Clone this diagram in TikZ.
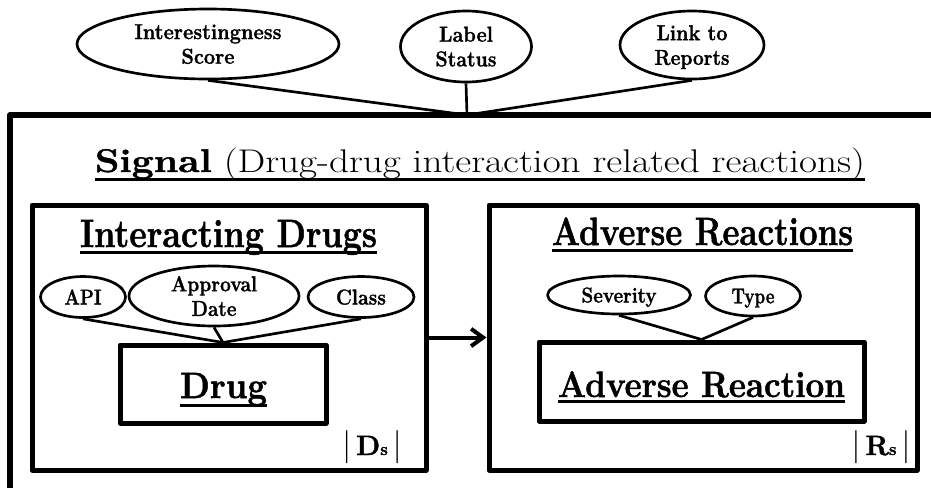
\documentclass[tikz,border=0pt]{standalone}
\usepackage{graphicx}
\usepackage{fontspec}
\setmainfont{Latin Modern Roman}[BoldFeatures={FakeBold=1.4}]
\usetikzlibrary{shapes.geometric,arrows.meta}

% one pixel of the layout grid
\newdimen\px \px=0.75pt
% stretch or squeeze a line of text to a given width (in px), height kept
\newcommand\hfit[2]{\resizebox{#1\px}{\height}{#2}}
% underlined text: rule centred #1 px below the baseline, #2 px thick
\newcommand\ulined[3]{\setbox0=\hbox{#3}\rlap{\rule[\dimexpr-#1\px-#2\px/2\relax]{\wd0}{#2\px}}\box0}
% cardinality mark |Xs|
\newcommand\card[1]{{\fontsize{25}{25}\selectfont|}\,\textbf{#1}{\fontsize{13}{13}\selectfont\bfseries s}\,{\fontsize{25}{25}\selectfont|}}

\begin{document}
\begin{tikzpicture}[x=0.75pt,y=-0.75pt,line join=round,
  attr/.style={draw, ellipse, line width=2pt, inner sep=0pt, align=center,
    text depth=0pt, font=\fontsize{16.2}{18.5}\selectfont\bfseries},
  entbox/.style={draw, rectangle, line width=3.75pt, inner sep=0pt},
  link/.style={line width=2pt},
  ttl/.style={inner sep=0pt, anchor=base},
  bigbold/.style={ttl, font=\fontsize{29.6}{32}\selectfont\bfseries},
  entbold/.style={ttl, font=\fontsize{27.5}{30}\selectfont\bfseries},
  cardtxt/.style={ttl, font=\fontsize{21}{21}\selectfont}]

\useasboundingbox (0,0) rectangle (931,487);
\clip (0,0) rectangle (931,487);

% outer signal frame (runs past the right and bottom edges)
\draw[line width=4.5pt] (945,115) -- (10,115) -- (10,500);
\coordinate (sigtop) at (467,115);

% signal attributes
\node[attr, minimum width=196.5pt, minimum height=52.5pt] (score) at (208,44)
  {\hfit{147}{Interestingness}\\\hfit{53}{Score}};
\node[attr, minimum width=98.25pt, minimum height=53.25pt] (status) at (466,46.5)
  {\hfit{54}{Label}\\\hfit{61}{Status}};
\node[attr, minimum width=108pt, minimum height=51pt] (reports) at (692,45)
  {\hfit{71}{Link to}\\\hfit{75}{Reports}};
\draw[link] (score.south) -- (sigtop);
\draw[link] (status.south) -- (sigtop);
\draw[link] (reports.south) -- (sigtop);

% signal title
\node[ttl, font=\fontsize{24.6}{28}\selectfont] (sigtitle) at (480,172)
  {\hfit{770}{\ulined{7.5}{3}{\textbf{Signal} (Drug-drug interaction related reactions)}}};

% interacting drugs
\node[entbox, minimum width=295.5pt, minimum height=198.75pt] (drugset) at (229,337.5) {};
\node[bigbold] (drugsettitle) at (228.5,247) {\hfit{297}{\ulined{5}{3}{Interacting Drugs}}};
\node[entbox, minimum width=154.5pt, minimum height=58.5pt] (drug) at (223,384) {};
\node[entbold] (drugtxt) at (223.5,398) {\hfit{87}{\ulined{7}{3}{Drug}}};
\node[attr, minimum width=63.75pt, minimum height=30.75pt] (api) at (83,297) {\hfit{37}{API}};
\node[attr, minimum width=127.5pt, minimum height=45pt] (appr) at (214,296)
  {\hfit{86}{Approval}\\\hfit{45}{Date}};
\node[attr, minimum width=79.5pt, minimum height=30.75pt] (class) at (361,297) {\hfit{50}{Class}};
\draw[link] (api.south) -- (drug.north);
\draw[link] (appr.south) -- (drug.north);
\draw[link] (class.south) -- (drug.north);
\node[cardtxt] (dcard) at (372,455) {\card{D}};

% adverse reactions
\node[entbox, minimum width=321pt, minimum height=198.75pt] (reactset) at (703,337.5) {};
\node[bigbold] (reactsettitle) at (702.5,245) {\hfit{301}{\ulined{5}{3}{Adverse Reactions}}};
\node[entbox, minimum width=243.75pt, minimum height=59.25pt] (react) at (701.5,381.5) {};
\node[entbold] (reacttxt) at (701.5,397) {\hfit{287}{\ulined{4}{3}{Adverse Reaction}}};
\node[attr, minimum width=107.25pt, minimum height=28.5pt] (sev) at (619,295) {\hfit{75}{Severity}};
\node[attr, minimum width=71.25pt, minimum height=30pt] (type) at (753,296) {\hfit{43}{Type}};
\draw[link] (sev.south) -- (react.north);
\draw[link] (type.south) -- (react.north);
\node[cardtxt] (rcard) at (881,455) {\card{R}};

% drugs lead to reactions
\draw[line width=3pt, -{Straight Barb[length=9pt,width=13pt]}] (drugset.east) -- (reactset.west);
\end{tikzpicture}
\end{document}
